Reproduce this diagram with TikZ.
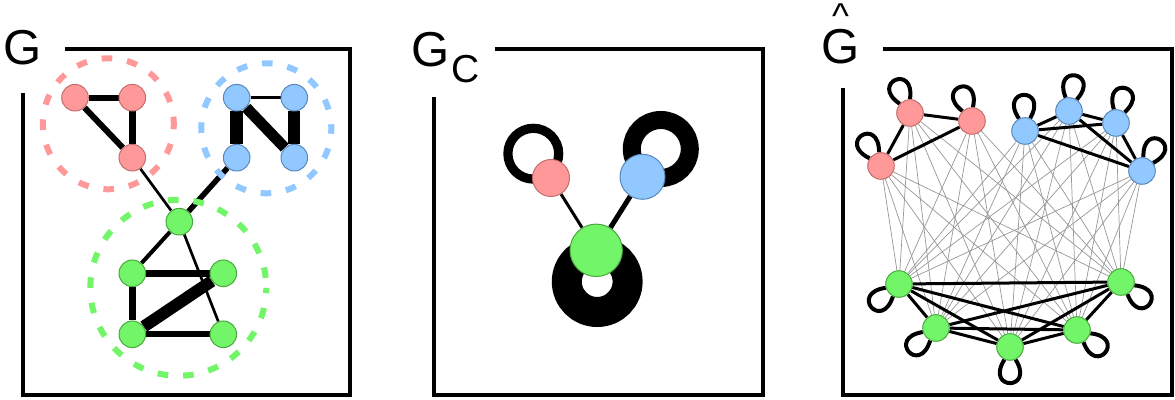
\documentclass[tikz,border=0pt]{standalone}
\usepackage{fontspec}
\setmainfont{Liberation Sans}
\usetikzlibrary{calc}
\pgfdeclarelayer{bg}
\pgfsetlayers{bg,main}
\definecolor{redf}{RGB}{255,153,153}
\definecolor{redd}{RGB}{196,108,108}
\definecolor{bluef}{RGB}{144,200,255}
\definecolor{blued}{RGB}{88,136,186}
\definecolor{greenf}{RGB}{114,245,104}
\definecolor{greend}{RGB}{72,168,62}
\definecolor{edgegray}{RGB}{150,150,150}
\begin{document}
\begin{tikzpicture}[x=0.5pt,y=-0.5pt,
  vtx/.style={circle,inner sep=0pt,minimum size=13.3pt,line width=0.5pt},
  rv/.style={vtx,fill=redf,draw=redd},
  bv/.style={vtx,fill=bluef,draw=blued},
  gv/.style={vtx,fill=greenf,draw=greend},
  frame/.style={line width=2pt},
  lbl/.style={anchor=base west,inner sep=0pt,font=\fontsize{24.5}{28}\selectfont},
  grp/.style={line width=3pt,dash pattern=on 5.3pt off 7.5pt,dash phase=2.6pt},
  lite/.style={line width=0.35pt,draw=edgegray},
  hedge/.style={line width=1.5pt},
  hloop/.style={line width=2pt}
]
\useasboundingbox (0,0) rectangle (1175,400);

% ---------- panel 1 : G ----------
\node[lbl] (lg) at (3,65) {G};
\draw[frame] (65,49.5) -- (350,49.5) -- (350,395) -- (23,395) -- (23,93);

\node[rv] (pr1) at (75,97.7) {};
\node[rv] (pr2) at (132.3,97.7) {};
\node[rv] (pr3) at (132.3,157.7) {};
\node[bv] (pb1) at (236.7,97.7) {};
\node[bv] (pb2) at (294.3,97.7) {};
\node[bv] (pb3) at (236.7,157.7) {};
\node[bv] (pb4) at (294.3,157.7) {};
\node[gv] (pg1) at (179.3,221.7) {};
\node[gv] (pg2) at (132.3,273.3) {};
\node[gv] (pg3) at (223.3,273.3) {};
\node[gv] (pg4) at (132.3,334.3) {};
\node[gv] (pg5) at (223.3,334.3) {};

\draw[grp,draw=redf] (108.3,123.8) circle[radius=65.5];
\draw[grp,draw=bluef] (266.3,128.3) circle[radius=65];
\draw[grp,draw=greenf] (178.3,287.8) circle[radius=88];

\begin{pgfonlayer}{bg}
\draw[line width=3pt] (pr1) -- (pr2);
\draw[line width=3pt] (pr1) -- (pr3);
\draw[line width=3.5pt] (pr2) -- (pr3);
\draw[line width=1.35pt] (pr3) -- (pg1);
\draw[line width=2.75pt] (pb3) -- (pg1);
\draw[line width=1.5pt] (pb1) -- (pb2);
\draw[line width=6.3pt] (pb1) -- (pb3);
\draw[line width=5.5pt] (pb1) -- (pb4);
\draw[line width=6pt] (pb2) -- (pb4);
\draw[line width=2pt] (pg1) -- (pg2);
\draw[line width=1.35pt] (pg1) -- (pg5);
\draw[line width=3.5pt] (pg2) -- (pg3);
\draw[line width=3.5pt] (pg2) -- (pg4);
\draw[line width=6pt] (pg4) -- (pg3);
\draw[line width=3pt] (pg4) -- (pg5);
\end{pgfonlayer}

% ---------- panel 2 : G_C ----------
\node[lbl] (lgc) at (411,67) {G\hspace{1.2pt}\raisebox{-8pt}{\fontsize{19.5}{20}\selectfont C}};
\draw[frame] (495,49.5) -- (763,49.5) -- (763,395) -- (434,395) -- (434,97);

\node[vtx,fill=redf,draw=redd,minimum size=18.5pt] (rc) at (551,178) {};
\node[vtx,fill=bluef,draw=blued,minimum size=22.5pt] (bc) at (642.5,176.8) {};
\node[vtx,fill=greenf,draw=greend,minimum size=26.2pt] (gc) at (596.2,250.3) {};

\begin{pgfonlayer}{bg}
\draw[line width=4.6pt] ($(rc.center)+(-17.7,-24.3)$) circle[radius=25.4];
\draw[line width=9pt] ($(bc.center)+(18.3,-27.8)$) circle[radius=29];
\draw[line width=15pt] ($(gc.center)+(1,31.3)$) circle[radius=30.4];
\draw[line width=1.5pt] (rc) -- (gc);
\draw[line width=2.5pt] (bc) -- (gc);
\end{pgfonlayer}

% ---------- panel 3 : G hat ----------
\node[lbl] (lgh) at (821,64) {\ooalign{G\cr\hidewidth\raisebox{17.5pt}{\fontsize{18}{18}\selectfont\textasciicircum}\hidewidth\cr}};
\draw[frame] (883,49.5) -- (1172,49.5) -- (1172,395) -- (843,395) -- (843,88);

\node[rv] (hr1) at (910,113) {};
\node[rv] (hr2) at (972,121) {};
\node[rv] (hr3) at (881,166) {};
\node[bv] (hb1) at (1025,131) {};
\node[bv] (hb2) at (1069,111) {};
\node[bv] (hb3) at (1116,123) {};
\node[bv] (hb4) at (1142,171) {};
\node[gv] (hg1) at (899,284) {};
\node[gv] (hg2) at (1121,282) {};
\node[gv] (hg3) at (936,328) {};
\node[gv] (hg4) at (1010,347) {};
\node[gv] (hg5) at (1077,330) {};

\begin{pgfonlayer}{bg}
\foreach \u in {hr1,hr2,hr3,hb1,hb2,hb3,hb4}
  \foreach \v in {hg1,hg2,hg3,hg4,hg5}
    \draw[lite] (\u) -- (\v);
\foreach \u/\v in {hr1/hr2,hr1/hr3,hr2/hr3,
                   hb1/hb2,hb1/hb3,hb1/hb4,hb2/hb3,hb2/hb4,hb3/hb4,
                   hg1/hg2,hg1/hg3,hg1/hg4,hg1/hg5,hg2/hg3,hg2/hg4,hg2/hg5,hg3/hg4,hg3/hg5,hg4/hg5}
  \draw[hedge] (\u) -- (\v);
\foreach \n/\a in {hr1/114,hr2/110,hr3/122,hb1/92,hb2/80,hb3/75,hb4/60,
                   hg1/220,hg3/221,hg4/270,hg5/322,hg2/322}
  \draw[hloop] (\n.{\a+24}) .. controls +({\a+32}:18.5pt) and +({\a-32}:18.5pt) .. (\n.{\a-24});
\end{pgfonlayer}
\end{tikzpicture}
\end{document}
